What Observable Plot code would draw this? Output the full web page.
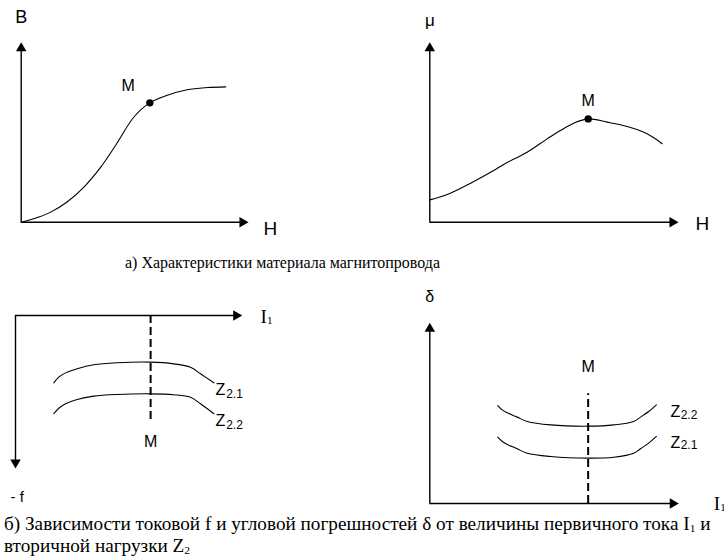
<!DOCTYPE html>
<html>
<head>
<meta charset="utf-8">
<script src="https://cdn.jsdelivr.net/npm/d3@7"></script>
<script src="https://cdn.jsdelivr.net/npm/@observablehq/plot@0.6"></script>
<style>
  body { margin: 0; background: #fff; }
  #fig { position: relative; width: 724px; height: 560px; overflow: hidden; background: #fff; }
  #fig svg { position: absolute; left: 0; top: 0; }
  .cap { position: absolute; white-space: nowrap; font-family: "Liberation Serif", "Times New Roman", serif;
         line-height: 1; color: #000; transform-origin: 0 0; }
  .cap sub { font-size: 0.6em; vertical-align: baseline; position: relative; top: 0.22em; }
</style>
</head>
<body>
<div id="fig"></div>
<script>
// B(H): magnetisation curve of the core material
const bhH = [0, 0.55, 1.3, 2.0, 2.75, 3.5, 4.2, 4.95, 5.65, 6.4, 7.3, 8.2, 9.0];
const bhB = [0, 0.19, 0.56, 1.11, 1.94, 3.06, 4.36, 5.83, 6.63, 7.04, 7.36, 7.48, 7.52];
const bhPointM = [5.66, 6.63];

// μ(H): permeability curve
const muH = [0, 0.70, 1.64, 2.57, 2.97, 3.91, 4.72, 5.25, 5.79, 6.37, 7.13, 7.94, 8.61, 9.01, 9.34];
const muVal = [1.24, 1.54, 2.17, 2.87, 3.21, 3.89, 4.63, 5.09, 5.50, 5.74, 5.56, 5.32, 5.00, 4.69, 4.36];
const muPointM = [6.37, 5.74];

// f(I1): current error for two secondary loads
const fI1 = [1.69, 1.91, 2.21, 2.72, 3.45, 4.49, 5.96, 6.98, 7.72, 8.16, 8.75];
const fZ21 = [-4.40, -4.03, -3.75, -3.48, -3.22, -3.09, -3.05, -3.16, -3.38, -3.81, -4.40];
const fZ22 = [-6.42, -6.06, -5.77, -5.49, -5.27, -5.16, -5.12, -5.18, -5.34, -5.77, -6.42];
const fLineM = [5.96, -6.86];

// δ(I1): angular error for two secondary loads
const dI1 = [2.73, 2.91, 3.11, 3.51, 3.91, 4.85, 6.39, 7.39, 8.19, 8.46, 8.79, 9.10];
const dZ22 = [5.42, 5.18, 5.02, 4.78, 4.54, 4.35, 4.28, 4.35, 4.54, 4.78, 5.09, 5.46];
const dZ21 = [3.67, 3.43, 3.27, 3.03, 2.78, 2.60, 2.51, 2.56, 2.78, 3.03, 3.34, 3.71];
const dLineM = [6.36, 6.07];

const W = 724, H = 560;
const ink = "#000";
const sans = "'Liberation Sans', Arial, sans-serif";
const serif = "'Liberation Serif', 'Times New Roman', serif";

const pts = (xs, ys) => xs.map((x, i) => ({x, y: ys[i]}));

// every panel is a full-size overlay; the frame places the axes
function panel([left, right, top, bottom], yDomain, marks) {
  return Plot.plot({
    width: W, height: H,
    marginLeft: left, marginRight: W - right, marginTop: top, marginBottom: H - bottom,
    x: {domain: [0, 10], axis: null},
    y: {domain: yDomain, axis: null},
    style: {background: "transparent", overflow: "visible"},
    marks
  });
}

function label(x, y, t, opts) {
  return Plot.text([{x, y, t}], {x: "x", y: "y", text: "t", fill: ink, fontFamily: sans, ...opts});
}

// axis with a filled arrowhead; dir: "right", "up" or "down"
function axis(dir, tip) {
  const head = {symbol: "triangle", r: 3.9, fill: ink, stroke: null};
  if (dir === "right") return [
    Plot.ruleY([0], {x1: 0, x2: tip - 0.2, stroke: ink, strokeWidth: 1.4}),
    Plot.dot([{x: tip, y: 0}], {x: "x", y: "y", rotate: 90, dx: -6, ...head})
  ];
  const s = dir === "up" ? 1 : -1;
  return [
    Plot.ruleX([0], {y1: 0, y2: tip - s * 0.2, stroke: ink, strokeWidth: 1.4}),
    Plot.dot([{x: 0, y: tip}], {x: "x", y: "y", rotate: dir === "up" ? 0 : 180, dy: 6 * s, ...head})
  ];
}

const curve = (xs, ys) => Plot.line(pts(xs, ys), {x: "x", y: "y", curve: "catmull-rom", stroke: ink, strokeWidth: 1.1});

const fig = document.getElementById("fig");

// B(H)
fig.append(panel([20.7, 248, 41.7, 221.7], [0, 10], [
  ...axis("right", 10), ...axis("up", 10),
  curve(bhH, bhB),
  Plot.dot([bhPointM], {x: d => d[0], y: d => d[1], r: 3.7, fill: ink}),
  label(bhPointM[0], bhPointM[1], "M", {fontSize: 16, dx: -21.6, dy: -16.6}),
  label(0, 10, "B", {fontSize: 18, dy: -24.5}),
  label(10, 0, "H", {fontSize: 19, textAnchor: "start", dx: 15, dy: 7})
]));

// μ(H)
fig.append(panel([429.3, 678, 41.7, 221.7], [0, 10], [
  ...axis("right", 10), ...axis("up", 10),
  curve(muH, muVal),
  Plot.dot([muPointM], {x: d => d[0], y: d => d[1], r: 3.7, fill: ink}),
  label(muPointM[0], muPointM[1], "M", {fontSize: 16, dy: -18}),
  label(0, 10, "μ", {fontSize: 17, dy: -22}),
  label(10, 0, "H", {fontSize: 19, textAnchor: "start", dx: 17, dy: 2})
]));

// f(I1), error axis pointing down
fig.append(panel([15, 241.7, 315, 468], [-10, 0], [
  ...axis("right", 10), ...axis("down", -10),
  Plot.ruleX([fLineM], {x: d => d[0], y1: 0, y2: d => d[1], stroke: ink, strokeWidth: 2, strokeDasharray: "8,4"}),
  label(fLineM[0], fLineM[1], "M", {fontSize: 16, dy: 21.5}),
  curve(fI1, fZ21), curve(fI1, fZ22),
  label(fI1.at(-1), fZ21.at(-1), "Z", {fontSize: 16, textAnchor: "start", dx: 1.7, dy: 7}),
  label(fI1.at(-1), fZ21.at(-1), "2.1", {fontSize: 12, textAnchor: "start", dx: 12.3, dy: 11}),
  label(fI1.at(-1), fZ22.at(-1), "Z", {fontSize: 16, textAnchor: "start", dx: 1.7, dy: 7}),
  label(fI1.at(-1), fZ22.at(-1), "2.2", {fontSize: 12, textAnchor: "start", dx: 12.3, dy: 11}),
  label(10, 0, "I", {fontSize: 19, fontFamily: serif, textAnchor: "start", dx: 18.3, dy: 1.2}),
  label(10, 0, "1", {fontSize: 11, fontFamily: serif, textAnchor: "start", dx: 24.8, dy: 5}),
  label(0, -10, "- f", {fontSize: 15, textAnchor: "start", dx: -5, dy: 28.5})
]));

// δ(I1)
fig.append(panel([429.3, 678.3, 322.3, 503], [0, 10], [
  ...axis("right", 10), ...axis("up", 10),
  Plot.ruleX([dLineM], {x: d => d[0], y1: 0, y2: d => d[1], stroke: ink, strokeWidth: 2, strokeDasharray: "8,4"}),
  label(dLineM[0], dLineM[1], "M", {fontSize: 16, dy: -27}),
  curve(dI1, dZ22), curve(dI1, dZ21),
  label(dI1.at(-1), dZ22.at(-1), "Z", {fontSize: 16, textAnchor: "start", dx: 14, dy: 7}),
  label(dI1.at(-1), dZ22.at(-1), "2.2", {fontSize: 12, textAnchor: "start", dx: 24.3, dy: 10}),
  label(dI1.at(-1), dZ21.at(-1), "Z", {fontSize: 16, textAnchor: "start", dx: 14, dy: 6}),
  label(dI1.at(-1), dZ21.at(-1), "2.1", {fontSize: 12, textAnchor: "start", dx: 24.3, dy: 9}),
  label(0, 10, "δ", {fontSize: 16, dy: -26}),
  label(10, 0, "I", {fontSize: 19, fontFamily: serif, textAnchor: "start", dx: 35, dy: 0}),
  label(10, 0, "1", {fontSize: 11, fontFamily: serif, textAnchor: "start", dx: 41.5, dy: 4})
]));

// captions; each line is stretched to its measured span
function caption(html, size, left, baseline) {
  const el = document.createElement("div");
  el.className = "cap";
  el.style.fontSize = size + "px";
  el.style.left = left + "px";
  el.style.top = (baseline - 0.8375 * size) + "px";
  el.innerHTML = html;
  fig.append(el);
  return el;
}
function fit(els, width) {
  const k = width / els[0].getBoundingClientRect().width;
  for (const el of els) el.style.transform = `scaleX(${k})`;
}

const capA = caption("а) Характеристики материала магнитопровода", 16, 125, 268.3);
fit([capA], 315);

const capB1 = caption("б) Зависимости токовой f и угловой погрешностей δ от величины первичного тока I<sub>1</sub> и", 18, 3.5, 530);
const capB2 = caption("вторичной нагрузки Z<sub>2</sub>", 18, 3.5, 551.7);
fit([capB1, capB2], 706.5);
</script>
</body>
</html>
